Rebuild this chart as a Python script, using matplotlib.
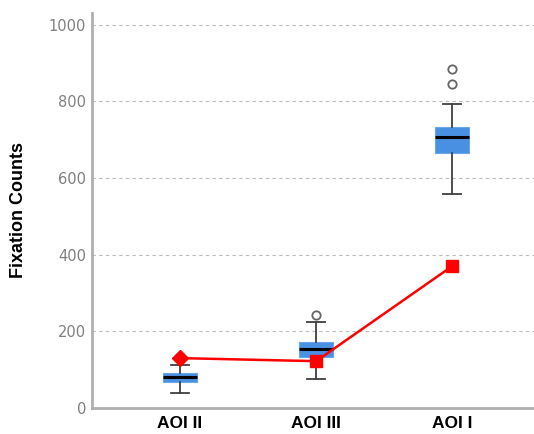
import matplotlib
matplotlib.use('Agg')
import matplotlib.pyplot as plt

# summary stats
categories = ['AOI II', 'AOI III', 'AOI I']
whisker_low = [39, 76, 557]
q1 = [68, 133, 664]
medians = [81, 154, 706]
q3 = [91, 172, 732]
whisker_high = [112, 224, 792]
outliers = [[], [242], [844, 885]]
line_values = [130, 122, 370]

fig = plt.figure(figsize=(5.34, 4.34), dpi=100)
ax = fig.add_axes([0.172, 0.060, 0.828, 0.910])

stats = []
for i, name in enumerate(categories):
	stats.append({'label': name, 'whislo': whisker_low[i], 'q1': q1[i], 'med': medians[i],
				  'q3': q3[i], 'whishi': whisker_high[i], 'fliers': outliers[i]})

positions = list(range(len(categories)))
ax.bxp(stats, positions=positions, widths=0.25, patch_artist=True, showfliers=True,
	   boxprops=dict(facecolor='#4a90e2', edgecolor='#6aa6ea', linewidth=0.8),
	   medianprops=dict(color='black', linewidth=2.2),
	   whiskerprops=dict(color='#404040', linewidth=1.3),
	   capprops=dict(color='#404040', linewidth=1.3),
	   capwidths=0.13,
	   flierprops=dict(marker='o', markerfacecolor='white', markeredgecolor='#666666',
					   markersize=6, markeredgewidth=1.3),
	   zorder=3)

ax.plot(positions, line_values, color='red', linewidth=1.8, zorder=4)
ax.plot(positions[:1], line_values[:1], 'D', color='red', markersize=8.5, zorder=5)
ax.plot(positions[1:], line_values[1:], 's', color='red', markersize=8.5, zorder=5)

ax.set_xlim(-0.647, 2.60)
ax.set_ylim(0, 1030)
ax.set_yticks([0, 200, 400, 600, 800, 1000])
ax.set_xticks(positions)
ax.set_xticklabels(categories, fontsize=12.5, fontweight='bold', family='Liberation Sans')
ax.tick_params(axis='both', length=0)
ax.tick_params(axis='y', labelcolor='#808080', labelsize=10.5, pad=4)
ax.tick_params(axis='x', pad=6)

for v in [200, 400, 600, 800, 1000]:
	ax.axhline(v, color='#bbbbbb', linestyle=(0, (3, 3)), linewidth=0.8, zorder=1)

for s in ['top', 'right']:
	ax.spines[s].set_visible(False)
for s in ['left', 'bottom']:
	ax.spines[s].set_color('#b0b0b0')
	ax.spines[s].set_linewidth(2)

ax.set_ylabel('Fixation Counts', fontsize=13, fontweight='bold', family='Liberation Sans', labelpad=16)

fig.savefig('out.png', dpi=100)
